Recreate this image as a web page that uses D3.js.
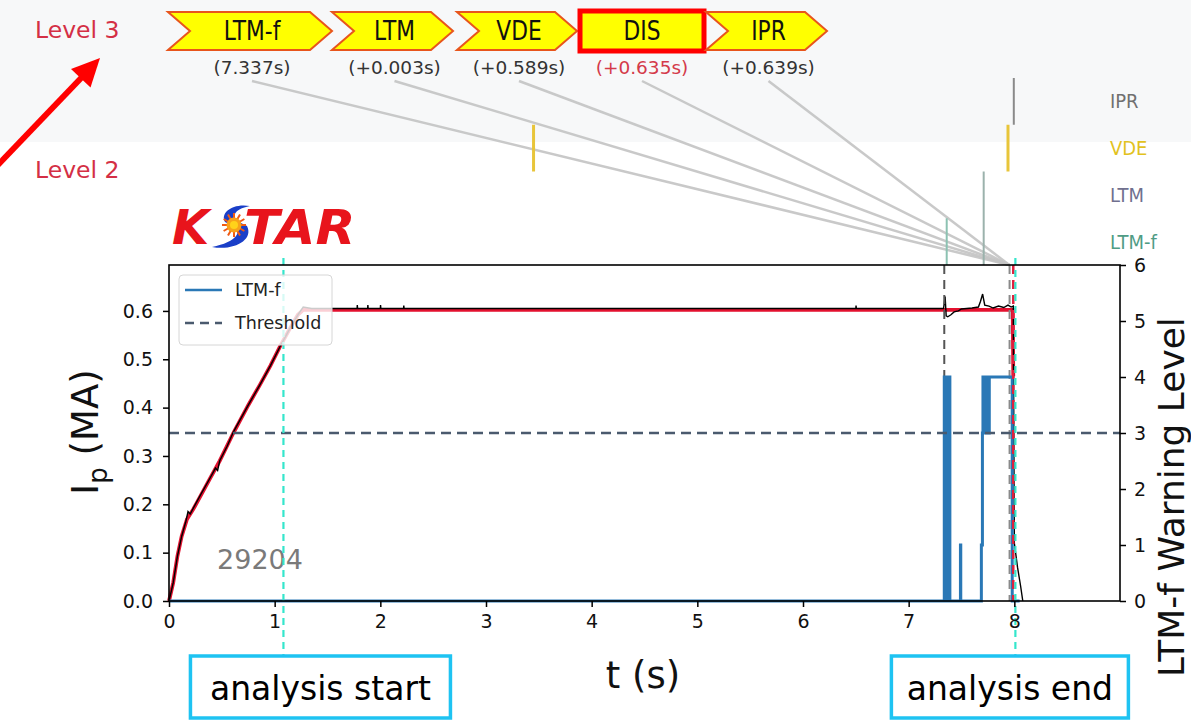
<!DOCTYPE html>
<html>
<head>
<meta charset="utf-8">
<script src="https://cdn.jsdelivr.net/npm/d3@7"></script>
<style>
  html, body { margin: 0; padding: 0; background: #ffffff; }
  svg { display: block; }
  text { font-family: "DejaVu Sans", sans-serif; }
</style>
</head>
<body>
<svg id="chart" width="1191" height="721"></svg>
<script>
// ---- Level-3 alarm sequence (chevrons) ----
const seqNames  = ["LTM-f", "LTM", "VDE", "DIS", "IPR"];
const seqLabels = ["(7.337s)", "(+0.003s)", "(+0.589s)", "(+0.635s)", "(+0.639s)"];
const seqStart  = 7.337;                 // s, first alarm time
const seqOffset = [0, 0.003, 0.589, 0.635, 0.639];
const seqFocus  = "DIS";

// ---- Level-2 warning rows and marks ----
const rowNames  = ["IPR", "VDE", "LTM", "LTM-f"];
const markRow   = ["VDE", "VDE", "IPR", "LTM", "LTM-f"];
const markTime  = [3.45, 7.94, 7.995, 7.71, 7.36];
const markSpan  = [1, 1, 1, 2, 1];

// ---- Plasma current Ip (MA), measured ----
const ipT = [0, 0.04, 0.08, 0.12, 0.16, 0.18, 0.2, 0.23, 0.3, 0.39, 0.44, 0.46, 0.48, 0.55, 0.61,
             0.75, 0.86, 0.96, 1.05, 1.15, 1.22, 1.27, 1.35, 1.5,
             1.78, 1.782, 1.785, 1.88, 1.882, 1.885, 2.0, 2.002, 2.005, 2.22, 2.222, 2.225,
             3.0, 4.0, 5.0, 6.5, 6.502, 6.505, 7.0, 7.33, 7.345, 7.355, 7.37, 7.4, 7.43, 7.47,
             7.5, 7.6, 7.66, 7.68, 7.7, 7.72, 7.76, 7.8, 7.85, 7.9, 7.94, 7.97, 7.99, 8.0, 8.03,
             8.06, 8.08];
const ipV = [0, 0.038, 0.093, 0.134, 0.165, 0.185, 0.18, 0.192, 0.22, 0.255, 0.275, 0.27, 0.29, 0.32, 0.35,
             0.405, 0.447, 0.487, 0.526, 0.566, 0.592, 0.608, 0.605, 0.605,
             0.605, 0.612, 0.605, 0.605, 0.612, 0.605, 0.605, 0.612, 0.605, 0.605, 0.611, 0.605,
             0.605, 0.605, 0.605, 0.605, 0.611, 0.605, 0.605, 0.605, 0.63, 0.59, 0.588, 0.592, 0.598, 0.6,
             0.604, 0.606, 0.608, 0.62, 0.635, 0.612, 0.61, 0.606, 0.61, 0.607, 0.612, 0.608, 0.61, 0.12, 0.07,
             0.03, 0];

// ---- Ip reference (red) ----
const refT = [0, 0.04, 0.08, 0.12, 0.17, 0.23, 0.3, 0.39, 0.48, 0.61, 0.75, 0.86, 0.96, 1.05, 1.15, 1.22, 1.27, 7.985, 7.99];
const refV = [0, 0.038, 0.093, 0.134, 0.169, 0.19, 0.218, 0.254, 0.29, 0.348, 0.405, 0.447, 0.487, 0.526, 0.566, 0.592, 0.602, 0.602, 0.465];

// ---- LTM-f warning level (step signal) ----
const warnT = [0, 7.337, 7.342, 7.346, 7.351, 7.355, 7.36, 7.365, 7.37, 7.375, 7.38, 7.385, 7.39,
               7.49, 7.493, 7.688, 7.698, 7.703, 7.708, 7.713, 7.718, 7.723, 7.728, 7.733, 7.738,
               7.743, 7.748, 7.753, 7.758, 7.763, 7.98, 8.05];
const warnL = [0, 4, 0, 4, 0, 4, 0, 4, 0, 4, 0, 4, 0,
               1, 0, 1, 3, 4, 3, 4, 3, 4, 3, 4, 3,
               4, 3, 4, 3, 4, 0, 0];
const threshold = 3;

// ---- Markers ----
const analysisStart = 1.083;
const analysisEnd = 8.01;
const alarmLines = [7.337, 7.955];
const disruptLine = 7.99;
const shotNumber = "29204";

// ---- Axes ----
const xTicks = [0, 1, 2, 3, 4, 5, 6, 7, 8];
const yLTicks = [0, 0.1, 0.2, 0.3, 0.4, 0.5, 0.6];
const yRTicks = [0, 1, 2, 3, 4, 5, 6];

const svg = d3.select("#chart");
const L = 169, R = 1120, T = 265, B = 601;

const x  = d3.scaleLinear().domain([0, 9.0]).range([L, R]);
const yL = d3.scaleLinear().domain([0, 0.695]).range([B, T]);
const yR = d3.scaleLinear().domain([0, 6]).range([B, T]);
const rowY = d3.scaleBand().domain(rowNames).range([78, T]);

// shrink text horizontally by a factor
function squeeze(sel, f) {
  sel.each(function () {
    const len = this.getComputedTextLength();
    d3.select(this).attr("textLength", len * f).attr("lengthAdjust", "spacingAndGlyphs");
  });
}

// top band
svg.append("rect").attr("x", 0).attr("y", 0).attr("width", 1191).attr("height", 142).attr("fill", "#f7f8f9");

// level labels
svg.append("text").attr("x", 35).attr("y", 38).attr("font-size", 23.5).attr("fill", "#d42f45").text("Level 3");
svg.append("text").attr("x", 35).attr("y", 178).attr("font-size", 23.5).attr("fill", "#d42f45").text("Level 2");

// red arrow pointing at Level 3
svg.append("line").attr("x1", -5).attr("y1", 168).attr("x2", 84).attr("y2", 75)
  .attr("stroke", "#ff0000").attr("stroke-width", 6);
svg.append("path").attr("d", "M100,58 L90.5,87.5 L71,69 Z").attr("fill", "#ff0000");

// chevron layout
const chevW = [164, 121, 120, 128, 121];
const chevGap = [0, 0, 4, 1, 0];
const chevX = [];
{ let cx = 168; chevW.forEach((w, i) => { cx += chevGap[i]; chevX.push(cx); cx += w; }); }
const cTop = 12, cBot = 50, cMid = 31, dep = 22;
const chevCenter = [];
seqNames.forEach((name, i) => {
  const x0 = chevX[i], w = chevW[i];
  let c;
  if (name === seqFocus) {
    svg.append("rect").attr("x", x0 + 2).attr("y", cTop - 1).attr("width", w - 4).attr("height", cBot - cTop + 2)
      .attr("fill", "#ffff00").attr("stroke", "#ff0000").attr("stroke-width", 5);
    c = x0 + w / 2;
  } else {
    const p = `M${x0},${cTop} L${x0 + w - dep},${cTop} L${x0 + w},${cMid} L${x0 + w - dep},${cBot} L${x0},${cBot} L${x0 + dep},${cMid} Z`;
    svg.append("path").attr("d", p).attr("fill", "#ffff00").attr("stroke", "#e8551c").attr("stroke-width", 2);
    c = (x0 + dep + x0 + w - dep) / 2 + 2;
  }
  chevCenter.push(c);
  svg.append("text").attr("x", c).attr("y", 40).attr("text-anchor", "middle")
    .attr("font-size", 26.5).attr("fill", "#111").text(name).call(squeeze, 0.82);
  svg.append("text").attr("x", c).attr("y", 74).attr("text-anchor", "middle")
    .attr("font-size", 18.5).attr("fill", name === seqFocus ? "#d43a4a" : "#333").text(seqLabels[i]);
});

// connector lines from each alarm label to the disruption time on the plot top
const focusT = seqStart + seqOffset[seqNames.indexOf(seqFocus)];
chevCenter.forEach(c => {
  svg.append("line").attr("x1", c).attr("y1", 81).attr("x2", x(focusT) - 2).attr("y2", T)
    .attr("stroke", "#c4c4c4").attr("stroke-width", 2.5).attr("opacity", 0.9);
});

// level-2 row labels and marks
const rowColor = { "IPR": "#707070", "VDE": "#e2c21e", "LTM": "#70708f", "LTM-f": "#4f9c85" };
const markColor = { "IPR": "#8a8a8a", "VDE": "#e8c53a", "LTM": "#9bb2ac", "LTM-f": "#8cc2b2" };
rowNames.forEach(r => {
  svg.append("text").attr("x", 1110).attr("y", rowY(r) + rowY.bandwidth() / 2 + 7)
    .attr("font-size", 19.5).attr("fill", rowColor[r]).text(r).call(squeeze, 0.92);
});
markRow.forEach((r, i) => {
  svg.append("line").attr("x1", x(markTime[i])).attr("x2", x(markTime[i]))
    .attr("y1", rowY(r)).attr("y2", rowY(r) + rowY.bandwidth() * markSpan[i])
    .attr("stroke", markColor[r]).attr("stroke-width", r === "VDE" ? 3 : 2);
});

// KSTAR logo
const logo = svg.append("g");
logo.append("text").attr("x", 172).attr("y", 244).attr("font-family", "Liberation Sans, Arial, sans-serif")
  .attr("font-weight", "bold").attr("font-style", "italic").attr("font-size", 48).attr("fill", "#e8141c").text("K");
logo.append("text").attr("x", 244).attr("y", 244).attr("font-family", "Liberation Sans, Arial, sans-serif")
  .attr("font-weight", "bold").attr("font-style", "italic").attr("font-size", 48).attr("fill", "#e8141c")
  .text("TAR").call(squeeze, 1.08);
logo.append("path")
  .attr("d", "M250,206 C232,203 220,213 225,222 L233,226 C243,231 237,242 212,247 C234,251 254,240 247,226 L239,222 C231,218 233,209 250,206 Z")
  .attr("fill", "#1a3fc8");
const sunC = [234, 225];
d3.range(12).forEach(k => {
  const a = k * Math.PI / 6;
  logo.append("line").attr("x1", sunC[0]).attr("y1", sunC[1])
    .attr("x2", sunC[0] + 12 * Math.cos(a)).attr("y2", sunC[1] + 12 * Math.sin(a))
    .attr("stroke", "#f05a14").attr("stroke-width", 2);
});
logo.append("circle").attr("cx", sunC[0]).attr("cy", sunC[1]).attr("r", 7.5).attr("fill", "#f7a21a");
logo.append("circle").attr("cx", sunC[0]).attr("cy", sunC[1]).attr("r", 4).attr("fill", "#ffd21a");

// ---- plot ----
const plot = svg.append("g");

// shot number
plot.append("text").attr("x", 260).attr("y", 569).attr("text-anchor", "middle")
  .attr("font-size", 27).attr("fill", "#7a7a7a").text(shotNumber);

const ipLine = d3.line().x(d => x(d[0])).y(d => yL(d[1]));
plot.append("path").datum(refT.map((t, i) => [t, refV[i]])).attr("d", ipLine)
  .attr("fill", "none").attr("stroke", "#e3112f").attr("stroke-width", 3.8);
plot.append("path").datum(ipT.map((t, i) => [t, ipV[i]])).attr("d", ipLine)
  .attr("fill", "none").attr("stroke", "#000").attr("stroke-width", 1.4);

// first alarm markers (behind the warning trace)
alarmLines.forEach((t, i) => {
  plot.append("line").attr("x1", x(t)).attr("x2", x(t)).attr("y1", T).attr("y2", B)
    .attr("stroke", i === 0 ? "#555" : "#8a8a8a").attr("stroke-width", 2).attr("stroke-dasharray", "9,6");
});

// warning level
const warnLine = d3.line().x(d => x(d[0])).y(d => yR(d[1])).curve(d3.curveStepAfter);
plot.append("path").datum(warnT.map((t, i) => [t, warnL[i]])).attr("d", warnLine)
  .attr("fill", "none").attr("stroke", "#2a78b6").attr("stroke-width", 3);

// threshold
plot.append("line").attr("x1", L).attr("x2", R).attr("y1", yR(threshold)).attr("y2", yR(threshold))
  .attr("stroke", "#4a5a6e").attr("stroke-width", 2.6).attr("stroke-dasharray", "10,6");

// disruption marker
plot.append("line").attr("x1", x(disruptLine)).attr("x2", x(disruptLine)).attr("y1", T).attr("y2", B)
  .attr("stroke", "#e0203e").attr("stroke-width", 2.5).attr("stroke-dasharray", "9,6");

// analysis window
[analysisStart, analysisEnd].forEach(t => {
  plot.append("line").attr("x1", x(t)).attr("x2", x(t)).attr("y1", 258).attr("y2", 656)
    .attr("stroke", "#35e6cc").attr("stroke-width", 2.2).attr("stroke-dasharray", "7,5");
});

// legend
const lg = plot.append("g");
lg.append("rect").attr("x", 179).attr("y", 275).attr("width", 153).attr("height", 70).attr("rx", 4)
  .attr("fill", "#ffffff").attr("fill-opacity", 0.8).attr("stroke", "#d6d6d6");
lg.append("line").attr("x1", 185).attr("x2", 222).attr("y1", 290).attr("y2", 290)
  .attr("stroke", "#2a78b6").attr("stroke-width", 2.5);
lg.append("line").attr("x1", 185).attr("x2", 222).attr("y1", 323).attr("y2", 323)
  .attr("stroke", "#4a5a6e").attr("stroke-width", 2.5).attr("stroke-dasharray", "9,6");
lg.append("text").attr("x", 235).attr("y", 296).attr("font-size", 17.5).attr("fill", "#222").text("LTM-f");
lg.append("text").attr("x", 235).attr("y", 329).attr("font-size", 17.5).attr("fill", "#222").text("Threshold");

// frame and axes
plot.append("rect").attr("x", L).attr("y", T).attr("width", R - L).attr("height", B - T)
  .attr("fill", "none").attr("stroke", "#000").attr("stroke-width", 1.6);

function styleAxis(g) {
  g.select(".domain").remove();
  g.selectAll(".tick line").attr("stroke", "#000").attr("stroke-width", 1.5);
  g.selectAll(".tick text").attr("font-family", "DejaVu Sans, sans-serif").attr("font-size", 19).attr("fill", "#111");
}
svg.append("g").attr("transform", `translate(0,${B})`)
  .call(d3.axisBottom(x).tickValues(xTicks).tickFormat(d3.format("d")).tickSize(6).tickPadding(8))
  .call(styleAxis);
svg.append("g").attr("transform", `translate(${L},0)`)
  .call(d3.axisLeft(yL).tickValues(yLTicks).tickFormat(d3.format(".1f")).tickSize(6).tickPadding(10))
  .call(styleAxis);
svg.append("g").attr("transform", `translate(${R},0)`)
  .call(d3.axisRight(yR).tickValues(yRTicks).tickFormat(d3.format("d")).tickSize(6).tickPadding(8))
  .call(styleAxis);

// axis titles
const yt = svg.append("text").attr("transform", "translate(98,432) rotate(-90)").attr("text-anchor", "middle")
  .attr("font-size", 37).attr("fill", "#111");
yt.append("tspan").text("I");
yt.append("tspan").attr("font-size", 26).attr("dy", 9).text("p");
yt.append("tspan").attr("dy", -9).text(" (MA)");

svg.append("text").attr("transform", "translate(1184,497) rotate(-90)").attr("text-anchor", "middle")
  .attr("font-size", 36).attr("fill", "#111").text("LTM-f Warning Level");

svg.append("text").attr("x", 643).attr("y", 688).attr("text-anchor", "middle")
  .attr("font-size", 37).attr("fill", "#111").text("t (s)");

// analysis window boxes
function noteBox(x0, x1, label) {
  svg.append("rect").attr("x", x0).attr("y", 656).attr("width", x1 - x0).attr("height", 62)
    .attr("fill", "#ffffff").attr("stroke", "#1ec3f2").attr("stroke-width", 3.5);
  svg.append("text").attr("x", (x0 + x1) / 2).attr("y", 700).attr("text-anchor", "middle")
    .attr("font-family", "Liberation Sans, Arial, sans-serif").attr("font-size", 33).attr("fill", "#000").text(label);
}
noteBox(x(analysisStart) - 93, x(analysisStart) + 167, "analysis start");
noteBox(x(analysisEnd) - 124, x(analysisEnd) + 113, "analysis end");
</script>
</body>
</html>
